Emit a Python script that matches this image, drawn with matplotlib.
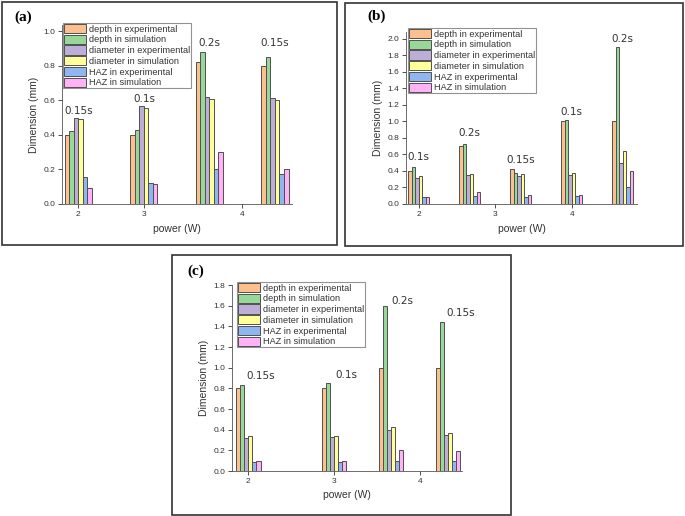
import matplotlib.pyplot as plt
from matplotlib.patches import Rectangle
import numpy as np

W, H = 685, 516

series = ["depth in experimental", "depth in simulation", "diameter in experimental",
          "diameter in simulation", "HAZ in experimental", "HAZ in simulation"]
colors = ["#fcc08e", "#97d898", "#bcaed6", "#ffff99", "#90b6f2", "#ffb3f6"]

# panel (a)
a_pos = [0.0, 1.0, 2.0, 3.0]
a_vals = [[0.40, 0.40, 0.82, 0.80],
          [0.42, 0.43, 0.88, 0.85],
          [0.50, 0.565, 0.62, 0.615],
          [0.49, 0.555, 0.61, 0.60],
          [0.155, 0.12, 0.205, 0.175],
          [0.09, 0.115, 0.30, 0.20]]
a_times = ["0.15s", "0.1s", "0.2s", "0.15s"]
a_text_y = [0.51, 0.58, 0.90, 0.90]
a_ticks = [0.0, 1.0, 2.5]
a_ticklabels = ["2", "3", "4"]

# panel (b)
b_pos = [0.0, 1.0, 2.0, 3.0, 4.0]
b_vals = [[0.40, 0.70, 0.42, 1.00, 1.00],
          [0.45, 0.73, 0.37, 1.02, 1.90],
          [0.32, 0.35, 0.34, 0.35, 0.50],
          [0.34, 0.36, 0.36, 0.37, 0.64],
          [0.08, 0.10, 0.09, 0.10, 0.20],
          [0.09, 0.14, 0.11, 0.11, 0.40]]
b_times = ["0.1s", "0.2s", "0.15s", "0.1s", "0.2s"]
b_text_y = [0.51, 0.80, 0.47, 1.05, 1.94]
b_ticks = [0.0, 1.5, 3.0]
b_ticklabels = ["2", "3", "4"]

# panel (c)
c_pos = [2.0, 3.0, 3.66, 4.33]
c_vals = [[0.80, 0.80, 1.00, 1.00],
          [0.83, 0.85, 1.60, 1.44],
          [0.32, 0.33, 0.40, 0.35],
          [0.34, 0.34, 0.43, 0.37],
          [0.085, 0.085, 0.10, 0.10],
          [0.10, 0.095, 0.20, 0.19]]
c_times = ["0.15s", "0.1s", "0.2s", "0.15s"]
c_text_y = [0.87, 0.88, 1.60, 1.48]
c_ticks = [2.0, 3.0, 4.0]
c_ticklabels = ["2", "3", "4"]

SANS = "Liberation Sans"


def px_rect(x0, y0, x1, y1):
    return [x0 / W, 1 - y1 / H, (x1 - x0) / W, (y1 - y0) / H]


def panel(fig, rect, pos, vals, times, text_y, ticks, ticklabels, xlim, ylim, ystep,
          width, text_dx, leg_xy, tag, tag_xy, frame):
    ax = fig.add_axes(px_rect(*rect))
    pos = np.array(pos)
    for i, (v, c) in enumerate(zip(vals, colors)):
        ax.bar(pos + (i - 2.5) * width, v, width, color=c, edgecolor="#505050",
               linewidth=0.7, label=series[i])
    for p, t, ty in zip(pos, times, text_y):
        ax.text(p + text_dx, ty, t, ha="center", va="bottom", fontsize=7.5, color="#333333")
    ax.set_xlim(*xlim)
    ax.set_ylim(0, ylim)
    yt = np.arange(0, ylim + 1e-6, ystep)
    ax.set_yticks(yt)
    ax.set_yticklabels([f"{v:.1f}" for v in yt], family=SANS)
    ax.set_xticks(ticks)
    ax.set_xticklabels(ticklabels, family=SANS)
    ax.tick_params(labelsize=6, length=3, width=0.6, colors="#333333", pad=2)
    for s in ["top", "right"]:
        ax.spines[s].set_visible(False)
    for s in ["left", "bottom"]:
        ax.spines[s].set_linewidth(0.6)
        ax.spines[s].set_color("#555555")
    ax.set_xlabel("power (W)", fontsize=7.5, color="#333333", labelpad=4, family=SANS)
    ax.set_ylabel("Dimension (mm)", fontsize=7.5, color="#333333", labelpad=3, family=SANS)
    leg = ax.legend(loc="upper left", bbox_to_anchor=(leg_xy[0] / W, 1 - leg_xy[1] / H),
                    bbox_transform=fig.transFigure, prop={"family": SANS, "size": 6.6},
                    frameon=True, fancybox=False, handlelength=2.4, handleheight=1.15,
                    handletextpad=0.3, labelspacing=0.12, borderpad=0.1, borderaxespad=0)
    leg.get_frame().set_edgecolor("#777777")
    leg.get_frame().set_linewidth(0.8)
    for t in leg.get_texts():
        t.set_color("#333333")
    fig.text(tag_xy[0] / W, 1 - tag_xy[1] / H, tag, fontsize=11, family="Liberation Serif",
             fontweight="bold", ha="left", va="center")
    x0, y0, x1, y1 = frame
    fig.add_artist(Rectangle((x0 / W, 1 - y1 / H), (x1 - x0) / W, (y1 - y0) / H,
                             transform=fig.transFigure, fill=False,
                             edgecolor="#333333", linewidth=1.2))
    return ax


fig = plt.figure(figsize=(W / 100, H / 100), dpi=100)

panel(fig, (62, 25, 292, 204), a_pos, a_vals, a_times, a_text_y, a_ticks, a_ticklabels,
      (-0.25, 3.26), 1.035, 0.2, 0.069, 0.0, (63, 23), "(a)", (14, 17),
      (2, 2, 337, 245))
panel(fig, (406, 32, 637, 204), b_pos, b_vals, b_times, b_text_y, b_ticks, b_ticklabels,
      (-0.25, 4.28), 2.08, 0.2, 0.069, 0.0, (408, 28), "(b)", (367, 16),
      (345, 3, 683, 246))
panel(fig, (232, 285, 462, 471), c_pos, c_vals, c_times, c_text_y, c_ticks, c_ticklabels,
      (1.81, 4.49), 1.8, 0.2, 0.0475, 0.14, (237, 282), "(c)", (187, 271),
      (172, 255, 511, 515))

fig.savefig("out.png", dpi=100)
